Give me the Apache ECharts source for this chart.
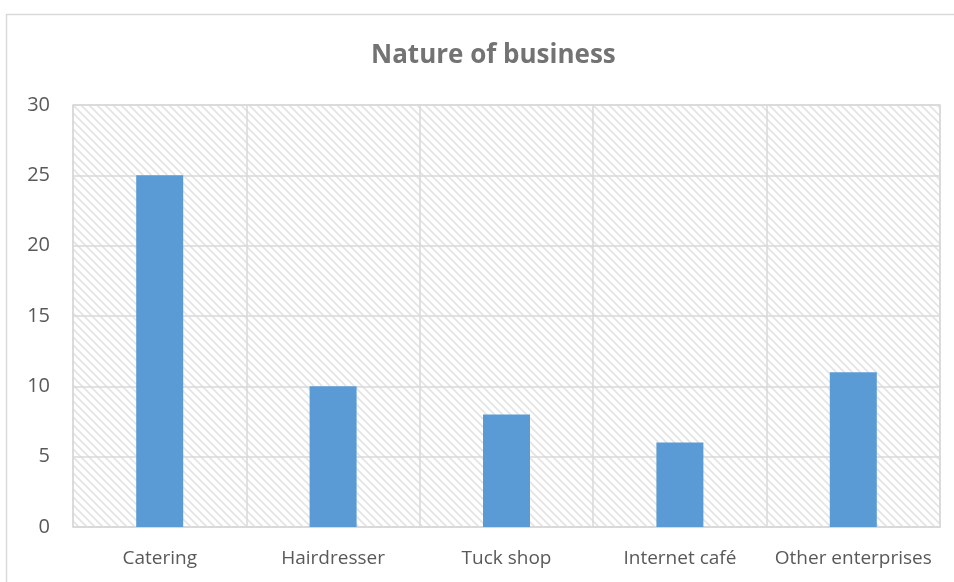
<!DOCTYPE html>
<html>
<head>
<meta charset="utf-8">
<script src="https://cdn.jsdelivr.net/npm/echarts@6/dist/echarts.min.js"></script>
<style>
  html, body { margin: 0; padding: 0; background: #fff; }
  #chart { width: 954px; height: 582px; }
</style>
</head>
<body>
<div id="chart"></div>
<script>
// Business types and respondent counts
const categories = ['Catering', 'Hairdresser', 'Tuck shop', 'Internet café', 'Other enterprises'];
const counts = [25, 10, 8, 6, 11];
const yTicks = { min: 0, max: 30, interval: 5 };

// Diagonal hatch tile used as the plot-area fill
function hatchTile() {
  const s = 8;
  const c = document.createElement('canvas');
  c.width = s; c.height = s;
  const g = c.getContext('2d');
  g.fillStyle = '#ffffff';
  g.fillRect(0, 0, s, s);
  g.strokeStyle = '#e4e4e4';
  g.lineWidth = 1.8;
  g.beginPath();
  g.moveTo(-2, -2); g.lineTo(s + 2, s + 2);
  g.moveTo(-2 - s, -2); g.lineTo(2, s + 2);
  g.moveTo(s - 2, -2); g.lineTo(2 * s + 2, s + 2);
  g.stroke();
  return c;
}

const chart = echarts.init(document.getElementById('chart'), null, { renderer: 'canvas' });
const font = 'Open Sans, Liberation Sans, sans-serif';

chart.setOption({
  animation: false,
  backgroundColor: '#ffffff',
  graphic: [{
    type: 'rect',
    left: 4, top: 12,
    shape: { width: 960, height: 580 },
    style: { fill: 'none', stroke: '#d9d9d9', lineWidth: 1.5 },
    z: -1
  }],
  title: {
    text: 'Nature of business',
    left: 366,
    top: 38,
    textStyle: { fontFamily: font, fontSize: 26, fontWeight: 'bold', color: '#737373' }
  },
  grid: {
    left: 73, right: 14, top: 105, bottom: 55,
    show: true,
    backgroundColor: { image: hatchTile(), repeat: 'repeat' },
    borderColor: '#d9d9d9',
    borderWidth: 1.5
  },
  xAxis: {
    type: 'category',
    data: categories,
    axisLine: { lineStyle: { color: '#d9d9d9', width: 1.5 } },
    axisTick: { show: false },
    axisLabel: { interval: 0, fontFamily: font, fontSize: 19, color: '#595959', margin: 22 },
    splitLine: { show: true, interval: 0, lineStyle: { color: '#d9d9d9', width: 1.5 } }
  },
  yAxis: {
    type: 'value',
    min: yTicks.min, max: yTicks.max, interval: yTicks.interval,
    axisLine: { show: false },
    axisTick: { show: false },
    axisLabel: { fontFamily: font, fontSize: 20, color: '#595959', margin: 23 },
    splitLine: { lineStyle: { color: '#d9d9d9', width: 1.5 } }
  },
  series: [{
    type: 'bar',
    data: counts,
    barWidth: 47,
    itemStyle: { color: '#5b9bd5' }
  }]
});
</script>
</body>
</html>
